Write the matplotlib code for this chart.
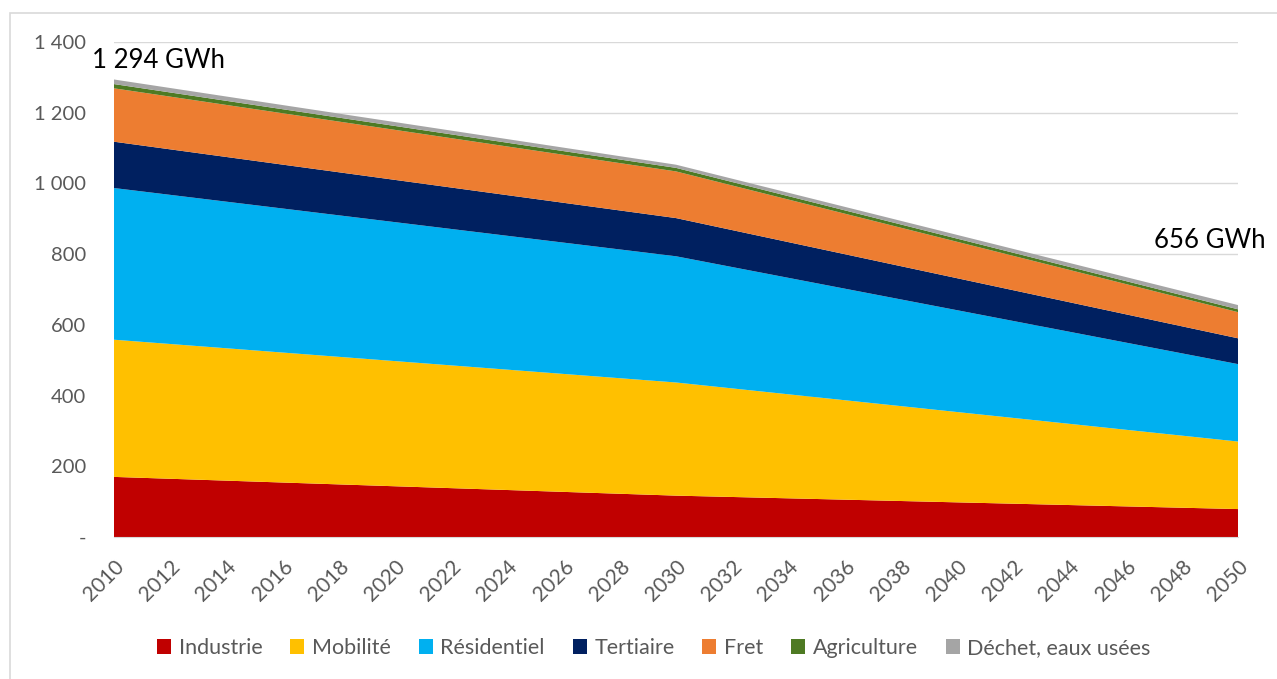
import matplotlib.pyplot as plt
import numpy as np
from matplotlib.patches import Rectangle, Patch

plt.rcParams['font.family'] = ['Lato', 'DejaVu Sans']

years = [2010, 2030, 2050]
sectors = ["Industrie", "Mobilité", "Résidentiel", "Tertiaire", "Fret", "Agriculture", "Déchet, eaux usées"]
colors = ["#c00000", "#ffc000", "#00b0f0", "#002060", "#ed7d31", "#4e7a23", "#a5a5a5"]

industrie = [170, 117, 79]
mobilite = [388, 320, 191]
residentiel = [429, 357, 219]
tertiaire = [131, 108, 73]
fret = [151, 132, 74]
agriculture = [12, 10, 8]
dechet = [13, 9, 12]

series = [industrie, mobilite, residentiel, tertiaire, fret, agriculture, dechet]
total_labels = ["1 294 GWh", "656 GWh"]

W, H = 1277, 679
fig = plt.figure(figsize=(W / 100, H / 100), dpi=100)
ax = fig.add_axes([114 / W, 1 - 537 / H, (1238 - 114) / W, (537 - 42) / H])

# chart border (Excel chart area)
fig.patches.append(Rectangle((10 / W, -0.1), 1.2, 1 - 13 / H + 0.1, transform=fig.transFigure,
                             fill=False, edgecolor="#d9d9d9", linewidth=1.2))

ax.stackplot(years, *series, colors=colors, labels=sectors, zorder=2, linewidth=0)

ax.set_xlim(2010, 2050)
ax.set_ylim(0, 1400)
yt = np.arange(0, 1401, 200)
ax.set_yticks(yt)
ax.set_yticklabels(["-"] + [f"{v:,}".replace(",", " ") for v in yt[1:]])
ax.set_xticks(np.arange(2010, 2051, 2))
ax.grid(axis="y", color="#d9d9d9", linewidth=1, zorder=0)
ax.set_axisbelow(True)
for s in ["left", "top", "right"]:
    ax.spines[s].set_visible(False)
ax.spines["bottom"].set_color("#d9d9d9")
ax.tick_params(axis="y", length=0, pad=20, labelsize=14.5, labelcolor="#595959")
ax.tick_params(axis="x", length=0, pad=14, labelsize=15, labelcolor="#595959")
for lbl in ax.get_xticklabels():
    lbl.set_rotation(45)
    lbl.set_rotation_mode("anchor")
    lbl.set_ha("right")
    lbl.set_va("top")

fig.text(92 / W, 1 - 61 / H, total_labels[0], fontsize=18.5, color="black", ha="left", va="center")
fig.text(1266 / W, 1 - 240 / H, total_labels[1], fontsize=18.5, color="black", ha="right", va="center")

handles = [Patch(facecolor=c, label=s) for s, c in zip(sectors, colors)]
fig.legend(handles=handles, loc="center", bbox_to_anchor=(654 / W, 1 - 648 / H), ncol=7,
           frameon=False, fontsize=15.5, labelcolor="#595959", handlelength=0.65, handleheight=0.65,
           handletextpad=0.35, columnspacing=1.3)

fig.savefig("out.png", dpi=100)
